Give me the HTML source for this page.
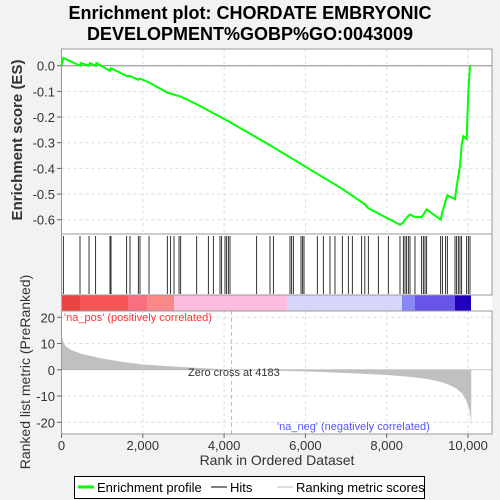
<!DOCTYPE html>
<html><head><meta charset="utf-8"><style>
body{margin:0;background:#f2f2f2;}
svg{display:block;font-family:"Liberation Sans",sans-serif;}
</style></head><body>
<svg id="c" width="500" height="500">
<text x="250" y="19" text-anchor="middle" font-size="18" font-weight="bold">Enrichment plot: CHORDATE EMBRYONIC</text>
<text x="250" y="40" text-anchor="middle" font-size="18" font-weight="bold">DEVELOPMENT%GOBP%GO:0043009</text>
<rect x="61.5" y="49" width="430.5" height="385" fill="#fff"/>
<g id="grid"></g>
<g id="colorbar"></g>
<g id="hits"></g>
<g id="metric"></g>
<g id="es"></g>
<g id="frames" fill="none" stroke="#999"></g>
<g id="axes" font-size="13" fill="#333"></g>
<text x="22" y="140" transform="rotate(-90 22 140)" text-anchor="middle" font-size="15" font-weight="bold" fill="#333">Enrichment score (ES)</text>
<text x="30" y="372" transform="rotate(-90 30 372)" text-anchor="middle" font-size="14" fill="#333">Ranked list metric (PreRanked)</text>
<text x="277" y="465" text-anchor="middle" font-size="14" fill="#333">Rank in Ordered Dataset</text>
<text x="64" y="321" font-size="11" fill="#f33">'na_pos' (positively correlated)</text>
<text x="277" y="430" font-size="11" fill="#55f">'na_neg' (negatively correlated)</text>
<g>
<rect x="74.5" y="476.5" width="350" height="22" fill="#fff" stroke="#000"/>
<line x1="78" y1="487" x2="94" y2="487" stroke="#0f0" stroke-width="3"/>
<text x="97" y="492" font-size="13">Enrichment profile</text>
<line x1="211" y1="487" x2="227" y2="487" stroke="#000"/>
<text x="230" y="492" font-size="13">Hits</text>
<line x1="277" y1="487" x2="293" y2="487" stroke="#bbb"/>
<text x="296" y="492" font-size="13">Ranking metric scores</text>
</g>
</svg>
<script>
const hitRanks=[45,455,677,840,1193,1218,1603,1685,1890,1931,2153,2603,2685,2768,2891,2932,3326,3612,3735,3899,3940,4022,4063,4104,4145,4801,5129,5212,5621,5662,5703,5892,5933,5966,6293,6441,6605,6728,6908,7056,7154,7384,7462,7548,7794,8040,8327,8409,8450,8491,8532,8573,8696,8860,8901,8942,8983,9328,9369,9450,9491,9680,9721,9762,9803,9844,9967,10008,10049];
const esRanks=[0,45,455,480,677,700,840,860,1193,1218,1603,1685,1890,1931,2153,2603,2932,3326,4145,5129,5966,6908,7462,7548,8327,8409,8450,8532,8573,8696,8860,8983,9328,9369,9491,9680,9721,9803,9844,9885,9967,10008,10049];
const esValues=[0,0.03,0,0.01,0,0.01,0,0.01,-0.02,-0.01,-0.04,-0.04,-0.055,-0.05,-0.065,-0.105,-0.12,-0.15,-0.22,-0.31,-0.39,-0.48,-0.54,-0.555,-0.62,-0.61,-0.6,-0.585,-0.58,-0.59,-0.59,-0.56,-0.6,-0.57,-0.505,-0.52,-0.47,-0.39,-0.31,-0.275,-0.285,-0.1,0.0];
const metricRanks=[0,30,100,250,500,1000,1500,2000,3000,4183,5000,6000,7000,8000,8500,9000,9300,9500,9700,9850,9950,10030,10070,10080];
const metricValues=[14,11,9,7.5,6,4.3,3,2,1,0,-0.3,-0.6,-1.2,-2,-2.6,-3.5,-4.5,-5.5,-7,-9,-11.5,-15,-19,-22];
const esTicks=[0,-0.1,-0.2,-0.3,-0.4,-0.5,-0.6];
const esTickLabels=["0.0","-0.1","-0.2","-0.3","-0.4","-0.5","-0.6"];
const metricTicks=[20,10,0,-10,-20];
const xTicks=[0,2000,4000,6000,8000,10000];
const xTickLabels=["0","2,000","4,000","6,000","8,000","10,000"];
const NS="http://www.w3.org/2000/svg";
const X=r=>61.5+r*0.04065;
const YE=v=>65.7-v*256.7;
const YM=v=>369.8-v*2.625;
function mk(t,a,p){const e=document.createElementNS(NS,t);for(const k in a)e.setAttribute(k,a[k]);(p||document.getElementById('c')).appendChild(e);return e;}
const grid=document.getElementById('grid');
xTicks.forEach(t=>{[[49,234],[311,434]].forEach(([a,b])=>{const l=mk('line',{x1:X(t),x2:X(t),y1:a,y2:b,stroke:'#ddd','stroke-dasharray':'3,3'},grid);});});
esTicks.forEach(t=>{const l=mk('line',{x1:61.5,x2:492,y1:YE(t),y2:YE(t),stroke:'#ddd','stroke-dasharray':'3,3'},grid);});
metricTicks.forEach(t=>{const l=mk('line',{x1:61.5,x2:492,y1:YM(t),y2:YM(t),stroke:'#ddd','stroke-dasharray':'3,3'},grid);});
mk('line',{x1:X(4183),x2:X(4183),y1:311,y2:434,stroke:'#bbb','stroke-dasharray':'4,3'},grid);
// color bar
const cb=document.getElementById('colorbar');
[[61.5,80,'#e84444'],[80,128,'#f55555'],[128,147,'#f87080'],[147,174,'#f98888'],[174,287,'#fbbde0'],[287,402,'#d6d6fa'],[402,415,'#8888f4'],[415,455,'#6655e8'],[455,471,'#2200bb']].forEach(s=>{const r=mk('rect',{x:s[0],y:295,width:s[1]-s[0],height:16,fill:s[2]},cb);});
// hits
const hg=document.getElementById('hits');
hitRanks.forEach(r=>{const l=mk('line',{x1:X(r),x2:X(r),y1:236,y2:294,stroke:'#000','stroke-width':0.8},hg);});
// metric
const mg=document.getElementById('metric');
let pts=metricRanks.map((r,i)=>X(r)+','+YM(metricValues[i]));
const area=mk('polygon',{points:X(0)+','+YM(0)+' '+pts.join(' ')+' '+X(10080)+','+YM(0),fill:'#c0c0c0'},mg);

mk('line',{x1:61.5,x2:492,y1:YM(0),y2:YM(0),stroke:'#aaa','stroke-width':0.5},mg);
const zt=mk('text',{x:188,y:376,'font-size':11,fill:'#333'},mg);zt.textContent='Zero cross at 4183';

// es
const eg=document.getElementById('es');
mk('line',{x1:61.5,x2:492,y1:YE(0),y2:YE(0),stroke:'#888'},eg);
const pl=mk('polyline',{points:esRanks.map((r,i)=>X(r)+','+YE(esValues[i])).join(' '),fill:'none',stroke:'#0f0','stroke-width':2},eg);

// frames
const fr=document.getElementById('frames');
mk('rect',{x:61.5,y:49,width:430.5,height:185},fr);
mk('rect',{x:61.5,y:234,width:430.5,height:61},fr);
mk('rect',{x:61.5,y:311,width:430.5,height:123},fr);
// axes
const ax=document.getElementById('axes');
esTicks.forEach((t,i)=>{mk('line',{x1:57,x2:61.5,y1:YE(t),y2:YE(t),stroke:'#666'},ax);const tx=mk('text',{x:55,y:YE(t)+5,'text-anchor':'end'},ax);tx.textContent=esTickLabels[i];});
metricTicks.forEach(t=>{mk('line',{x1:57,x2:61.5,y1:YM(t),y2:YM(t),stroke:'#666'},ax);const tx=mk('text',{x:55,y:YM(t)+5,'text-anchor':'end'},ax);tx.textContent=String(t);});
xTicks.forEach((t,i)=>{mk('line',{x1:X(t),x2:X(t),y1:434,y2:438,stroke:'#666'},ax);const tx=mk('text',{x:X(t),y:450,'text-anchor':'middle'},ax);tx.textContent=xTickLabels[i];});
</script>
</body></html>
